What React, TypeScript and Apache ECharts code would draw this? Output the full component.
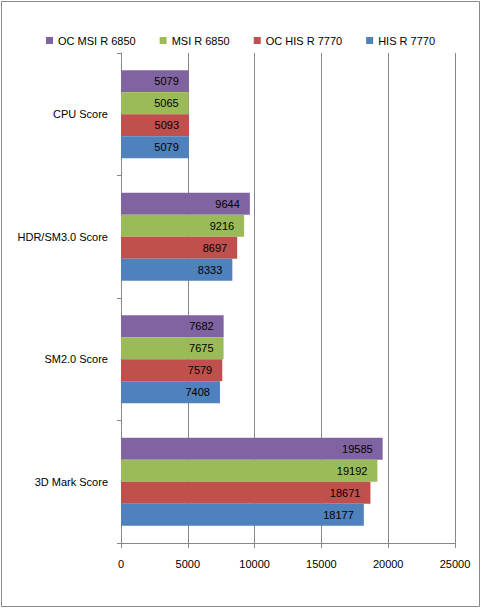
import React, { useEffect, useRef } from "react";
import * as echarts from "echarts";

const categories = ["3D Mark Score", "SM2.0 Score", "HDR/SM3.0 Score", "CPU Score"];
const seriesNames = ["OC MSI R 6850", "MSI R 6850", "OC HIS R 7770", "HIS R 7770"];
const ocMsi = [19585, 7682, 9644, 5079];
const msi = [19192, 7675, 9216, 5065];
const ocHis = [18671, 7579, 8697, 5093];
const his = [18177, 7408, 8333, 5079];
const colors = ["#8064A2", "#9BBB59", "#C0504D", "#4F81BD"];

export default function App() {
  const ref = useRef<HTMLDivElement>(null);
  useEffect(() => {
    document.body.style.margin = "0";
    const chart = echarts.init(ref.current!, null, { renderer: "svg" });
    const font = "'Liberation Sans', Arial, sans-serif";
    const data = [ocMsi, msi, ocHis, his];
    chart.setOption({
      animation: false,
      backgroundColor: "#fff",
      textStyle: { fontFamily: font },
      graphic: [
        {
          type: "rect",
          shape: { x: 1.5, y: 1.5, width: 478, height: 605 },
          style: { fill: "none", stroke: "#8a8a8a", lineWidth: 1 },
          silent: true,
        },
      ],
      legend: {
        top: 30,
        left: 41,
        itemWidth: 7,
        itemHeight: 7,
        itemGap: 24,
        icon: "rect",
        data: seriesNames,
        textStyle: { fontSize: 11, color: "#000", fontFamily: font },
      },
      grid: { left: 121, right: 27, top: 53, bottom: 66, containLabel: false },
      xAxis: {
        type: "value",
        min: 0,
        max: 25000,
        interval: 5000,
        axisLine: { show: true, lineStyle: { color: "#888" } },
        axisTick: { show: true, length: 5, lineStyle: { color: "#888" } },
        splitLine: { show: true, lineStyle: { color: "#888" } },
        axisLabel: {
          color: "#000",
          fontSize: 11,
          margin: 15,
          fontFamily: font,
          formatter: (v: number) => String(v),
        },
      },
      yAxis: {
        type: "category",
        data: categories,
        axisLine: { show: true, lineStyle: { color: "#888" } },
        axisTick: { show: true, length: 4, lineStyle: { color: "#888" } },
        axisLabel: { color: "#000", fontSize: 11, margin: 13, fontFamily: font },
      },
      series: seriesNames.map((name, i) => ({
        name,
        type: "bar",
        data: data[i],
        barWidth: 22,
        barGap: "0%",
        itemStyle: { color: colors[i] },
        label: {
          show: true,
          position: "insideRight",
          distance: 10,
          color: "#000",
          fontSize: 11,
          fontFamily: font,
        },
      })),
    });
    return () => chart.dispose();
  }, []);
  return <div ref={ref} style={{ width: 482, height: 609 }} />;
}
